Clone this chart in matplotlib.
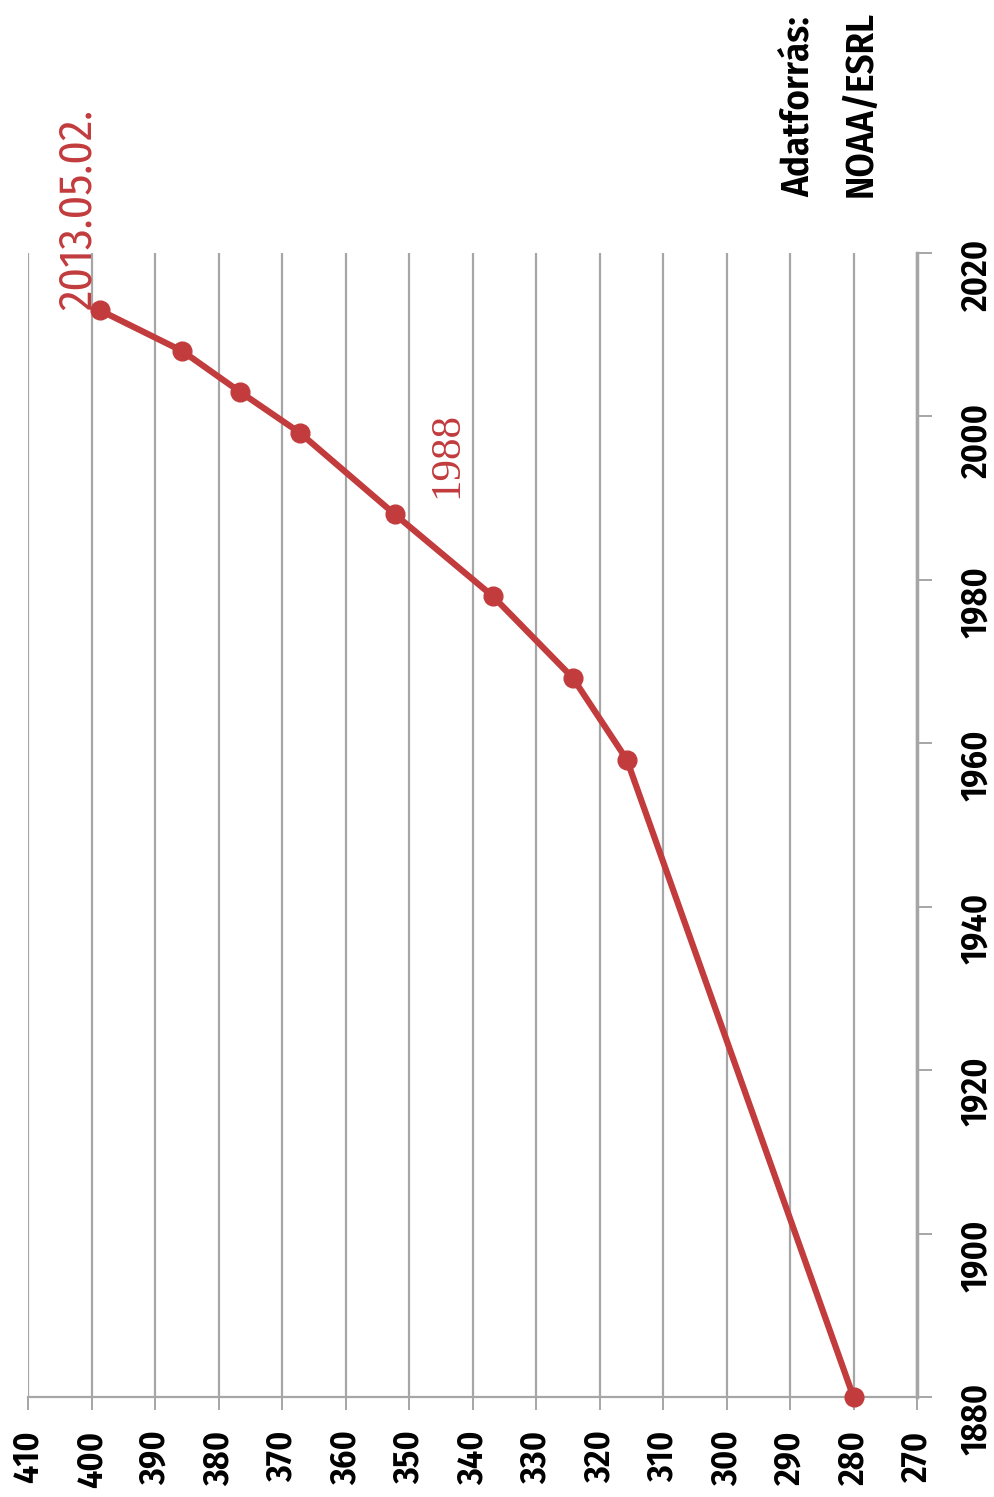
import matplotlib.pyplot as plt

# CO2 koncentráció (ppm) - évek
years = [1880, 1958, 1968, 1978, 1988, 1998, 2003, 2008, 2013]
ppm = [280.0, 315.7, 324.2, 336.8, 352.2, 367.2, 376.6, 385.7, 398.7]

ppm_ticks = list(range(270, 411, 10))
year_ticks = list(range(1880, 2021, 20))

red = '#c23b3d'
grid_gray = '#a6a6a6'
narrow = ['Fira Sans Condensed', 'Roboto Condensed', 'DejaVu Sans']

fig = plt.figure(figsize=(9.94, 14.97), dpi=100)
ax = fig.add_axes([28 / 994, 1 - 1397 / 1497, 889 / 994, 1144 / 1497])

# the chart is drawn rotated: ppm runs along x (reversed), years along y
ax.plot(ppm, years, color=red, linewidth=4.5, marker='o', markersize=13.5,
        markerfacecolor=red, markeredgecolor=red, zorder=5, clip_on=False)

ax.set_xlim(410, 270)
ax.set_ylim(1880, 2020)
ax.set_xticks(ppm_ticks)
ax.set_yticks(year_ticks)
ax.grid(axis='x', color=grid_gray, linewidth=1.6)
ax.set_axisbelow(True)

ax.yaxis.tick_right()
for s in ['top', 'left']:
    ax.spines[s].set_visible(False)
ax.spines['right'].set_color(grid_gray)
ax.spines['right'].set_linewidth(2.5)
ax.spines['bottom'].set_color(grid_gray)
ax.spines['bottom'].set_linewidth(1.6)

ax.tick_params(axis='x', direction='out', length=9, width=1.4, color=grid_gray, pad=15)
ax.tick_params(axis='y', direction='out', length=11, width=1.4, color=grid_gray, pad=19)
for lbl in ax.get_xticklabels() + ax.get_yticklabels():
    lbl.set_rotation(90)
    lbl.set_family(narrow)
    lbl.set_fontsize(26)
    lbl.set_fontweight('semibold')

ax.text(402.1, 2013.0, '2013.05.02.', rotation=90, ha='center', va='bottom',
        color=red, fontsize=33, family=narrow, clip_on=False)
ax.text(344.0, 1990.0, '1988', rotation=90, ha='center', va='bottom',
        color=red, fontsize=31, family=['Liberation Serif', 'DejaVu Serif'])

fig.text(798 / 994, 1 - 197 / 1497, 'Adatforrás:', rotation=90, ha='center',
         va='bottom', fontsize=28, family=narrow, fontweight='semibold')
fig.text(861 / 994, 1 - 197 / 1497, 'NOAA/ESRL', rotation=90, ha='center',
         va='bottom', fontsize=28, family=narrow, fontweight='semibold')

fig.savefig('out.png', dpi=100, facecolor='white')
